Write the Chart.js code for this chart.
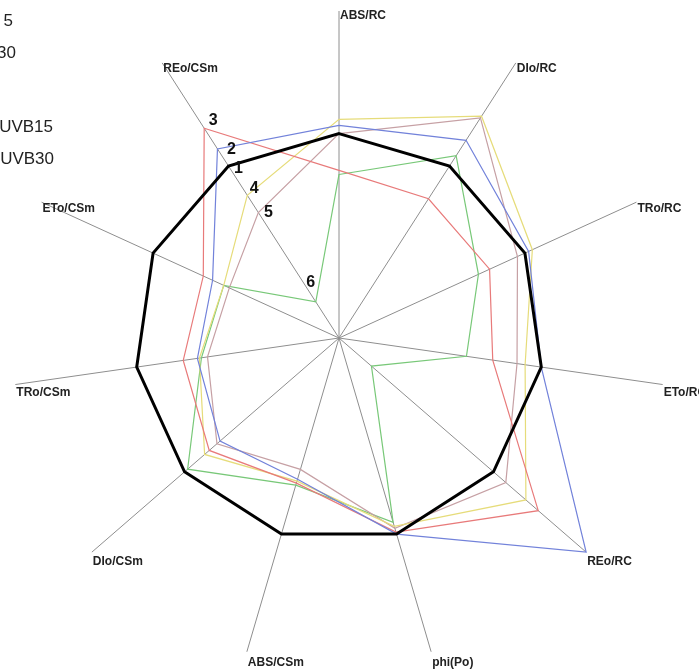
<!DOCTYPE html>
<html>
<head>
<meta charset="utf-8">
<script src="https://cdn.jsdelivr.net/npm/chart.js@4"></script>
<style>
  html, body { margin: 0; padding: 0; background: #fff; overflow: hidden; }
  canvas { display: block; }
</style>
</head>
<body>
<canvas id="radarChart" width="699" height="671"></canvas>
<script>
// axes, clockwise from the top
const labels = ['ABS/RC', 'DIo/RC', 'TRo/RC', 'ETo/RC', 'REo/RC', 'phi(Po)',
                'ABS/CSm', 'DIo/CSm', 'TRo/CSm', 'ETo/CSm', 'REo/CSm'];

// values relative to control (= 1)
const series1 = [1, 1, 1, 1, 1, 1, 1, 1, 1, 1, 1];
const series2 = [1.04, 1.15, 1.02, 1.00, 1.60, 1.00, 0.72, 0.77, 0.70, 0.68, 1.10];
const series3 = [0.82, 0.81, 0.81, 0.76, 1.29, 0.99, 0.74, 0.84, 0.77, 0.73, 1.22];
const series4 = [1.07, 1.29, 1.04, 0.92, 1.21, 0.96, 0.73, 0.87, 0.69, 0.62, 0.83];
const series5 = [1.00, 1.28, 0.96, 0.88, 1.08, 0.97, 0.67, 0.79, 0.65, 0.59, 0.73];
const series6 = [0.80, 1.06, 0.75, 0.63, 0.21, 0.94, 0.75, 0.98, 0.68, 0.62, 0.21];

const seriesNames = ['1', '2', '3', '4', '5', '6'];
const legendNames = ['UVB 5', 'UVB 30', 'SNP+UVB15', 'SNP+UVB30'];

const scaleMin = 0;
const scaleMax = 1.6;

// number tags next to the REo/CSm points (pixel nudges)
const tagNudge = [[10, 3], [14, 1], [9, -8], [7, -7], [10, 0], [-5, -19]];

function line(label, data, color, width) {
    return {
        label: label,
        data: data,
        borderColor: color,
        borderWidth: width,
        backgroundColor: 'transparent',
        fill: false,
        pointRadius: 0,
        pointHoverRadius: 0,
        tension: 0
    };
}

const extras = {
    id: 'extras',
    afterDraw(chart) {
        const c = chart.ctx;
        const r = chart.scales.r;
        c.save();

        // axis names at the end of each spoke
        c.font = 'bold 12px Arial, "Liberation Sans", sans-serif';
        c.fillStyle = '#222';
        c.textAlign = 'left';
        c.textBaseline = 'middle';
        labels.forEach((name, i) => {
            const p = r.getPointPosition(i, r.drawingArea);
            const dy = (p.y - r.yCenter) / r.drawingArea;
            c.fillText(name, p.x + 1, p.y + 8 + 3 * dy);
        });

        // series numbers beside REo/CSm
        const last = labels.length - 1;
        c.font = 'bold 16px Arial, "Liberation Sans", sans-serif';
        c.fillStyle = '#111';
        c.textAlign = 'center';
        chart.data.datasets.forEach((ds, k) => {
            const p = r.getPointPosition(last, r.getDistanceFromCenterForValue(ds.data[last]));
            c.fillText(seriesNames[k], p.x + tagNudge[k][0], p.y + tagNudge[k][1]);
        });

        // legend, cut off by the left edge
        c.font = '17px Arial, "Liberation Sans", sans-serif';
        c.fillStyle = '#222';
        c.textAlign = 'right';
        const ends = [[13, 21], [16, 53], [53, 127], [54, 159]];
        legendNames.forEach((t, i) => c.fillText(t, ends[i][0], ends[i][1]));

        c.restore();
    }
};

const ctx = document.getElementById('radarChart').getContext('2d');
const radarChart = new Chart(ctx, {
    type: 'radar',
    data: {
        labels: labels,
        datasets: [
            line('1', series1, '#000000', 3),
            line('2', series2, '#7282da', 1.2),
            line('3', series3, '#e87a7a', 1.2),
            line('4', series4, '#e6dc7a', 1.2),
            line('5', series5, '#c6a0a4', 1.2),
            line('6', series6, '#78c878', 1.2)
        ]
    },
    options: {
        responsive: false,
        animation: false,
        layout: { padding: { left: 12, right: 33, top: 11, bottom: 6 } },
        scales: {
            r: {
                min: scaleMin,
                max: scaleMax,
                startAngle: 0,
                angleLines: { color: '#8e8e8e', lineWidth: 1 },
                grid: { display: false },
                ticks: { display: false },
                pointLabels: { display: false }
            }
        },
        plugins: {
            legend: { display: false },
            tooltip: { enabled: false }
        }
    },
    plugins: [extras]
});
</script>
</body>
</html>
